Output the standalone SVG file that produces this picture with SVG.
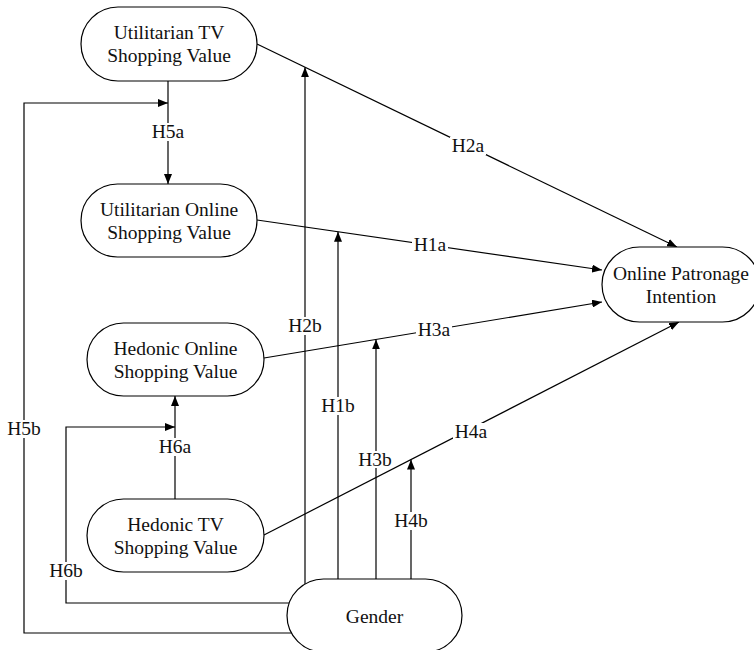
<svg xmlns="http://www.w3.org/2000/svg" width="754" height="650" viewBox="0 0 754 650">
<style>
.node{fill:#fff;stroke:#000;stroke-width:1.2}
.t{font-family:"Liberation Serif","Times New Roman",serif;font-size:19.5px;fill:#111;text-anchor:middle}
.c{fill:none;stroke:#000;stroke-width:1.2}
.bg{fill:#fff}
</style>
<defs>
<marker id="ah" markerUnits="userSpaceOnUse" markerWidth="10" markerHeight="8" refX="10" refY="4" orient="auto">
<path d="M0,0 L10,4 L0,8 z" fill="#000"/>
</marker>
</defs>
<rect width="754" height="650" fill="#fff"/>
<g id="connectors">
<path class="c" d="M168,81 L168,184" marker-end="url(#ah)"/>
<path class="c" d="M291.5,633 L24,633 L24,103 L168,103" marker-end="url(#ah)"/>
<path class="c" d="M175,499 L175,396" marker-end="url(#ah)"/>
<path class="c" d="M289,603 L66,603 L66,427 L175,427" marker-end="url(#ah)"/>
<path class="c" d="M257,44 L677,247" marker-end="url(#ah)"/>
<path class="c" d="M257,220 L602,270" marker-end="url(#ah)"/>
<path class="c" d="M264,358 L602,302" marker-end="url(#ah)"/>
<path class="c" d="M305,584 L305,67.2" marker-end="url(#ah)"/>
<path class="c" d="M338,579 L338,231.7" marker-end="url(#ah)"/>
<path class="c" d="M376,579 L376,339.4" marker-end="url(#ah)"/>
<path class="c" d="M411,579 L411,459.6" marker-end="url(#ah)"/>
<g id="labels">
<rect class="bg" x="150" y="123" width="36" height="18"/><text class="t" x="168" y="138">H5a</text>
<rect class="bg" x="6" y="420" width="36" height="18"/><text class="t" x="24" y="435">H5b</text>
<rect class="bg" x="157" y="438" width="36" height="18"/><text class="t" x="175" y="453">H6a</text>
<rect class="bg" x="48" y="562" width="36" height="18"/><text class="t" x="66" y="577">H6b</text>
<rect class="bg" x="450" y="137" width="36" height="18"/><text class="t" x="468" y="152">H2a</text>
<rect class="bg" x="412" y="236" width="36" height="18"/><text class="t" x="430" y="251">H1a</text>
<rect class="bg" x="416" y="321" width="36" height="18"/><text class="t" x="434" y="336">H3a</text>
<rect class="bg" x="287" y="317" width="36" height="18"/><text class="t" x="305" y="332">H2b</text>
<rect class="bg" x="320" y="397" width="36" height="18"/><text class="t" x="338" y="412">H1b</text>
<rect class="bg" x="357" y="451" width="36" height="17"/><text class="t" x="375" y="466">H3b</text>
<rect class="bg" x="393" y="512" width="36" height="18"/><text class="t" x="411" y="527">H4b</text>
</g>
<path class="c" d="M264,535 L679,322" marker-end="url(#ah)"/>
<rect class="bg" x="453" y="423" width="36" height="18"/><text class="t" x="471" y="438">H4a</text>
</g>
<g id="utv">
<rect class="node" x="81" y="7" width="176" height="74" rx="37"/>
<text class="t" x="169" y="39">Utilitarian TV</text>
<text class="t" x="169" y="61.5">Shopping Value</text>
</g>
<g id="uo">
<rect class="node" x="81" y="184" width="176" height="73" rx="36.5"/>
<text class="t" x="169" y="216">Utilitarian Online</text>
<text class="t" x="169" y="238.5">Shopping Value</text>
</g>
<g id="ho">
<rect class="node" x="87" y="323" width="177" height="73" rx="36.5"/>
<text class="t" x="175.5" y="355">Hedonic Online</text>
<text class="t" x="175.5" y="377.5">Shopping Value</text>
</g>
<g id="htv">
<rect class="node" x="87" y="499" width="177" height="73" rx="36.5"/>
<text class="t" x="175.5" y="531">Hedonic TV</text>
<text class="t" x="175.5" y="553.5">Shopping Value</text>
</g>
<g id="opi">
<rect class="node" x="602" y="247" width="158" height="75" rx="37.5"/>
<text class="t" x="681" y="280">Online Patronage</text>
<text class="t" x="681" y="302.5">Intention</text>
</g>
<g id="gender">
<rect class="node" x="287" y="579" width="175" height="73" rx="36.5"/>
<text class="t" x="374.5" y="623">Gender</text>
</g>
</svg>
